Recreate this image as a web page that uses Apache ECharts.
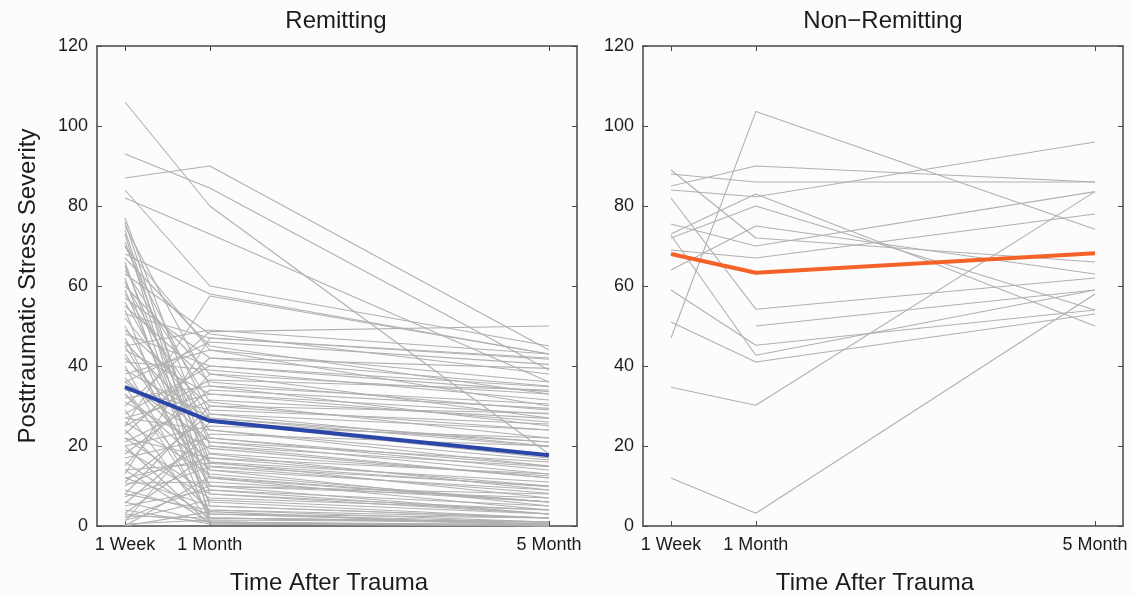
<!DOCTYPE html>
<html>
<head>
<meta charset="utf-8">
<title>Posttraumatic Stress Severity</title>
<script src="https://cdn.jsdelivr.net/npm/echarts@6/dist/echarts.min.js"></script>
<style>
  html, body { margin: 0; padding: 0; background: #fcfcfd; }
  #chart { width: 1133px; height: 596px; }
</style>
</head>
<body>
<div id="chart"></div>
<script>
// time points (positions on the x scale) and their labels
const timeX = [1, 2, 6];
const timeLabels = ['1 Week', '1 Month', '5 Month'];
const yTicks = [0, 20, 40, 60, 80, 100, 120];

// Remitting: one entry per subject, at 1 week / 1 month / 5 months
const remitWeek1 = [
  106, 93, 87, 84, 82, 77, 76, 75, 74, 73,
  70, 70, 68, 67, 66, 65, 64, 63, 62, 61,
  60, 59, 57, 56, 55, 54, 53, 52, 50, 49,
  48, 47, 46, 45, 44, 43, 42, 41, 40, 39,
  38, 37, 36, 35, 34, 33, 32, 31, 30, 29,
  28, 27, 26, 25, 24, 23, 22, 21, 20, 20,
  19, 18, 17, 16, 15, 14, 13, 12, 11, 10.7,
  10, 9, 8, 7.3, 6, 5.7, 5, 4, 3.2, 2.5,
  1.5, 1, 0.5, 0, 0, 25, 3, 8, 14, 22,
  33, 45, 58, 71, 36, 27, 12, 2
];
const remitMonth1 = [
  80, 84.5, 90, 60, 73, 20, 12, 35, 8, 2,
  44, 28, 58, 45, 5, 15, 31, 48, 3, 22,
  38, 10, 42, 18, 36, 1, 47, 26, 14, 30,
  40, 6, 24, 49, 33, 12, 21, 39, 2, 27,
  44, 16, 46, 3, 29, 9, 35, 19.4, 48.6, 1,
  40, 24, 13, 36.5, 4, 42, 17, 31.5, 0.5, 25,
  7, 34, 22, 2, 38, 15.7, 47, 5, 28, 11,
  20, 3, 30, 14.8, 1, 23, 9, 0.5, 18.2, 2,
  6.5, 26, 1.5, 12.3, 3.6, 57.5, 1, 4, 0.8, 8,
  14, 10, 27, 16, 21, 33, 17, 10
];
const remitMonth5 = [
  18, 39, 44, 45, 36, 12, 6, 25, 3, 1,
  30, 20, 43, 33, 2, 10, 22, 38, 0.5, 14,
  27, 8, 35, 9, 29, 0, 41.7, 17, 5, 24,
  34.8, 2, 15, 43, 28, 4, 13, 31.5, 1, 19.8,
  36, 7, 40.4, 2, 25.5, 3, 30.5, 12, 50, 0,
  33.6, 16.5, 6, 34, 1, 39.4, 10, 26.9, 0.5, 22,
  4, 29.4, 15, 1, 33, 9.8, 42, 2, 24, 6,
  14.8, 1, 28.2, 8.2, 0, 20, 5, 0, 12.5, 0.5,
  3, 21, 1, 6, 0, 43, 0.3, 2, 0.2, 4,
  9, 3, 21, 11, 16, 26, 13, 7
];
const remitMean = [34.7, 26.3, 17.7];

// Non-Remitting
const nonWeek1 = [47, 89, 88, 85, 84, 82, 75.5, 73, 72, 69, 64, 72.7, 59, 51, 34.7, 12, null];
const nonMonth1 = [103.6, 72, 86, 90, 82.3, 54.2, 70, 83, 80, 67, 75, 42.7, 45.2, 41, 30.2, 3.2, 50];
const nonMonth5 = [74.2, 66, 86, 86, 96, 62, 83.6, 50, 54, 78, 63, 59, 54, 53, 83.6, 58, 59];
const nonMean = [68, 63.3, 68.2];

const FONT = '"Liberation Sans", Arial, Helvetica, sans-serif';
const AXIS_COLOR = '#474747';
const TEXT_COLOR = '#1c1c1c';
const GREY = '#b0b0b0';

function xAxis(gridIndex, position) {
  const bottom = position === 'bottom';
  return {
    type: 'value',
    gridIndex: gridIndex,
    position: position,
    min: 0.67,
    max: 6.33,
    axisLine: { show: true, onZero: false, lineStyle: { color: AXIS_COLOR, width: 1.5 } },
    axisTick: { show: true, inside: true, length: 5, customValues: timeX, lineStyle: { color: AXIS_COLOR } },
    axisLabel: {
      show: bottom,
      customValues: timeX,
      formatter: v => timeLabels[timeX.indexOf(v)],
      fontFamily: FONT, fontSize: 18, color: TEXT_COLOR, margin: 10
    },
    splitLine: { show: false }
  };
}

function yAxis(gridIndex, position, name) {
  const left = position === 'left';
  return {
    type: 'value',
    gridIndex: gridIndex,
    position: position,
    min: 0,
    max: 120,
    interval: 20,
    name: name || '',
    nameLocation: 'middle',
    nameRotate: 90,
    nameGap: 57,
    nameTextStyle: { fontFamily: FONT, fontSize: 24, color: TEXT_COLOR },
    axisLine: { show: true, onZero: false, lineStyle: { color: AXIS_COLOR, width: 1.5 } },
    axisTick: { show: true, inside: true, length: 5, lineStyle: { color: AXIS_COLOR } },
    axisLabel: { show: left, fontFamily: FONT, fontSize: 18, color: TEXT_COLOR, margin: 9 },
    splitLine: { show: false }
  };
}

function subjectSeries(axisIndex, w1, m1, m5) {
  return w1.map((_, i) => {
    const vals = [w1[i], m1[i], m5[i]];
    const pts = [];
    vals.forEach((v, k) => { if (v !== null) pts.push([timeX[k], v]); });
    return {
      type: 'line',
      xAxisIndex: axisIndex,
      yAxisIndex: axisIndex,
      data: pts,
      symbol: 'none',
      silent: true,
      z: 2,
      lineStyle: { color: GREY, width: 1.1 }
    };
  });
}

function meanSeries(axisIndex, vals, color) {
  return {
    type: 'line',
    xAxisIndex: axisIndex,
    yAxisIndex: axisIndex,
    data: vals.map((v, k) => [timeX[k], v]),
    symbol: 'none',
    silent: true,
    z: 5,
    lineStyle: { color: color, width: 4 }
  };
}

const chart = echarts.init(document.getElementById('chart'));

const titleStyle = { font: '24px ' + FONT, fill: TEXT_COLOR, textAlign: 'center', textVerticalAlign: 'middle' };

const option = {
  animation: false,
  backgroundColor: '#fcfcfd',
  grid: [
    { left: 97, top: 46, width: 480, height: 480 },
    { left: 643, top: 46, width: 480, height: 480 }
  ],
  // axes 0/1 are bottom/left, 2/3 are the mirrored top/right frame sides
  xAxis: [xAxis(0, 'bottom'), xAxis(1, 'bottom'), xAxis(0, 'top'), xAxis(1, 'top')],
  yAxis: [
    yAxis(0, 'left', 'Posttraumatic Stress Severity'),
    yAxis(1, 'left'),
    yAxis(0, 'right'),
    yAxis(1, 'right')
  ],
  series: [].concat(
    subjectSeries(0, remitWeek1, remitMonth1, remitMonth5),
    subjectSeries(1, nonWeek1, nonMonth1, nonMonth5),
    [meanSeries(0, remitMean, '#2b45a8'), meanSeries(1, nonMean, '#f4622a')]
  ),
  graphic: [
    { type: 'text', x: 336, y: 21, style: Object.assign({ text: 'Remitting' }, titleStyle) },
    { type: 'text', x: 883, y: 21, style: Object.assign({ text: 'Non\u2212Remitting' }, titleStyle) },
    { type: 'text', x: 329, y: 583, style: Object.assign({ text: 'Time After Trauma' }, titleStyle) },
    { type: 'text', x: 875, y: 583, style: Object.assign({ text: 'Time After Trauma' }, titleStyle) }
  ]
};

chart.setOption(option);
</script>
</body>
</html>
